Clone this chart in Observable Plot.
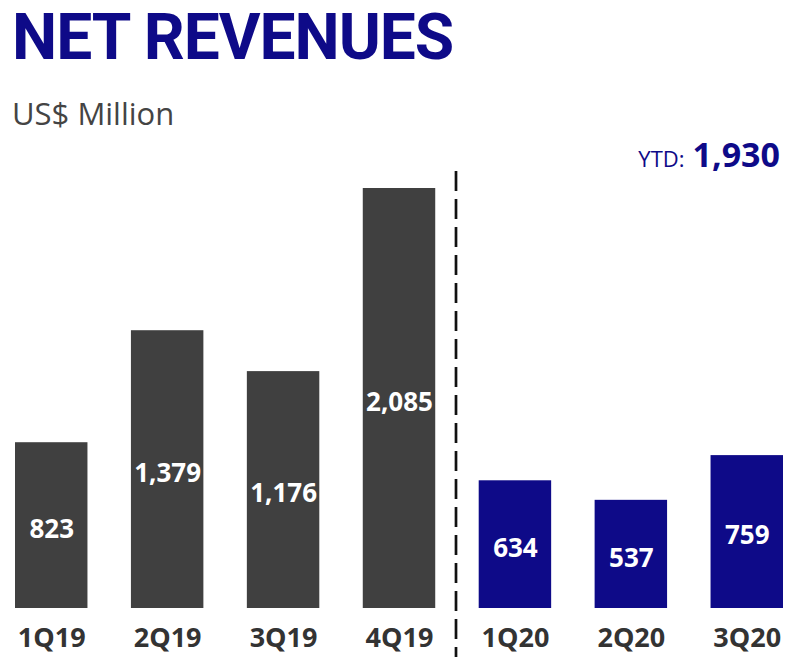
<!DOCTYPE html>
<html>
<head>
<meta charset="utf-8">
<script src="https://cdn.jsdelivr.net/npm/d3@7"></script>
<script src="https://cdn.jsdelivr.net/npm/@observablehq/plot@0.6"></script>
<style>
  html, body { margin: 0; padding: 0; background: #fff; }
  #wrap { position: relative; width: 800px; height: 665px; overflow: hidden; font-family: "Open Sans", sans-serif; }
  #header { position: relative; width: 800px; height: 170px; }
  #title { position: absolute; left: 12px; top: 6px; font-family: Roboto, sans-serif; font-size: 64px; line-height: 1; font-weight: 700; color: #0e0a88; letter-spacing: -1px; white-space: nowrap; }
  #subtitle { position: absolute; left: 12px; top: 98px; font-size: 31px; line-height: 1; color: #444; white-space: nowrap; }
  #ytd { position: absolute; right: 20px; top: 137px; font-size: 34px; line-height: 1; color: #0e0a88; white-space: nowrap; }
  #ytd .lab { font-size: 22px; margin-right: 8px; }
  #ytd .val { font-weight: 700; }
  #chart svg { display: block; }
</style>
</head>
<body>
<div id="wrap">
  <div id="header">
    <div id="title"></div>
    <div id="subtitle"></div>
    <div id="ytd"><span class="lab"></span><span class="val"></span></div>
  </div>
  <div id="chart"></div>
</div>
<script>
const titleText = "NET REVENUES";
const subtitleText = "US$ Million";
const ytdLabel = "YTD:";
const ytdTotal = 1930;

const quarters = ["1Q19", "2Q19", "3Q19", "4Q19", "1Q20", "2Q20", "3Q20"];
const revenues = [823, 1379, 1176, 2085, 634, 537, 759];
const years = ["2019", "2019", "2019", "2019", "2020", "2020", "2020"];
const dividerAfter = ["4Q19"];

const fmt = d3.format(",");
document.getElementById("title").textContent = titleText;
document.getElementById("subtitle").textContent = subtitleText;
document.querySelector("#ytd .lab").textContent = ytdLabel;
document.querySelector("#ytd .val").textContent = fmt(ytdTotal);

const data = quarters.map((q, i) => ({quarter: q, value: revenues[i], year: years[i]}));

const chart = Plot.plot({
  width: 800,
  height: 495,
  marginTop: 18,
  marginBottom: 57,
  marginLeft: 15,
  marginRight: 17,
  style: {fontFamily: "Open Sans, sans-serif", background: "white"},
  x: {domain: quarters, paddingInner: 0.375, paddingOuter: 0, round: false, label: null},
  y: {domain: [0, d3.max(revenues)], nice: false, axis: null},
  color: {domain: ["2019", "2020"], range: ["#404040", "#0e0a88"]},
  marks: [
    Plot.barY(data, {x: "quarter", y: "value", fill: "year"}),
    Plot.text(data, {
      x: "quarter",
      y: d => d.value / 2,
      text: d => fmt(d.value),
      fill: "white",
      fontSize: 26,
      fontWeight: 700,
      lineAnchor: "middle",
      dy: 4
    }),
    Plot.ruleX(dividerAfter, {
      x: d => d,
      dx: 56.5,
      stroke: "#111",
      strokeWidth: 2.7,
      strokeDasharray: "20,8",
      insetTop: -17,
      insetBottom: -49
    }),
    Plot.axisX({
      tickSize: 0,
      tickPadding: 19,
      fontSize: 27,
      fontWeight: 700,
      color: "#333",
      label: null
    })
  ]
});
document.getElementById("chart").appendChild(chart);
</script>
</body>
</html>
